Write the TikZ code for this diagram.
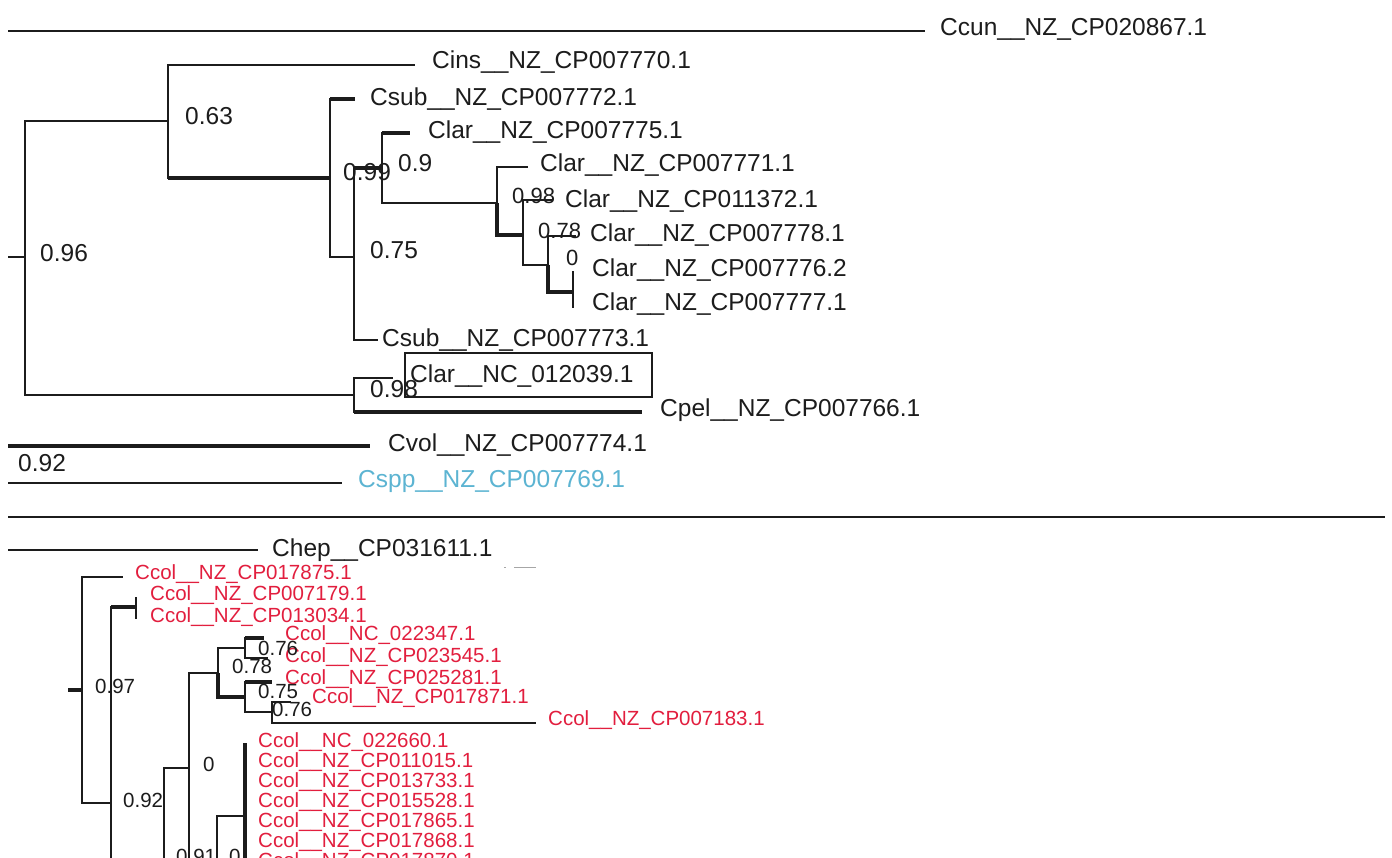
\documentclass[tikz,border=0pt]{standalone}
\usepackage{fontspec}
\setmainfont{Liberation Sans}
\usetikzlibrary{positioning}
\definecolor{TreeInk}{RGB}{28,28,28}
\definecolor{ColiRed}{RGB}{226,30,62}
\definecolor{SppBlue}{RGB}{92,180,210}
\tikzset{
  br/.style={draw=TreeInk, line width=1.5pt},
  brbold/.style={draw=TreeInk, line width=3.6pt},
  brmid/.style={draw=TreeInk, line width=2.6pt},
  taxon/.style={inner sep=0pt, anchor=base west, text=TreeInk,
    font=\fontsize{24.5}{24.5}\selectfont},
  ccol/.style={taxon, text=ColiRed, font=\fontsize{20.5}{20.5}\selectfont},
  supp/.style={taxon},
  suppsmall/.style={taxon, font=\fontsize{22}{22}\selectfont},
  suppcol/.style={taxon, font=\fontsize{20.5}{20.5}\selectfont},
}

\begin{document}
\begin{tikzpicture}[x=1pt, y=-1pt]
  \useasboundingbox (0,0) rectangle (1392,858);
  \fill[white] (0,0) rectangle (1392,858);
  \clip (0,0) rectangle (1392,858);

  % outgroup on top
  \coordinate (ccunA) at (8,31);
  \coordinate (ccunB) at (925,31);
  \draw[br, line width=2.6pt] (ccunA) -- (ccunB);
  \node[taxon] (ccun) at (940,36) {Ccun\_\_NZ\_CP020867.1};

  % upper clade
  \coordinate (rootA) at (8,257);
  \coordinate (nRoot) at (25,257);
  \coordinate (nA) at (168,121);
  \coordinate (nB) at (330,178);
  \coordinate (nC) at (354,257);
  \coordinate (nD) at (382,168);
  \coordinate (nE) at (497,203);
  \coordinate (nG) at (523,235);
  \coordinate (nH) at (548,265);
  \coordinate (nI) at (573,292);
  \coordinate (nF) at (354,395);
  \coordinate (tCins) at (415,65);
  \coordinate (tCsubA) at (355,99);
  \coordinate (tClarA) at (410,133);
  \coordinate (tClarB) at (528,167);
  \coordinate (tClarC) at (552,200);
  \coordinate (tClarD) at (576,236);
  \coordinate (tClarE) at (573,271);
  \coordinate (tClarF) at (573,308);
  \coordinate (tCsubB) at (378,340);
  \coordinate (tClarG) at (393,378);
  \coordinate (tCpel) at (642,412);

  \draw[br] (rootA) -- (nRoot);
  \draw[br] (nRoot) |- (nA);
  \draw[br] (nRoot) |- (nF);
  \draw[br] (nA) |- (tCins);
  \draw[br] (nA) |- (nB);
  \draw[brbold] (nA |- nB) -- (nB);
  \draw[br] (nB) |- (tCsubA);
  \draw[brbold] (nB |- tCsubA) -- (tCsubA);
  \draw[br] (nB) |- (nC);
  \draw[br] (nC) |- (nD);
  \draw[brbold] (nC |- nD) -- (nD);
  \draw[br] (nC) |- (tCsubB);
  \draw[br] (nD) |- (tClarA);
  \draw[brbold] (nD |- tClarA) -- (tClarA);
  \draw[br] (nD) |- (nE);
  \draw[br] (nE) |- (tClarB);
  \draw[brbold] (nE) |- (nG);
  \draw[br] (nG) |- (tClarC);
  \draw[br] (nG) |- (nH);
  \draw[br] (nH) |- (tClarD);
  \draw[brbold] (nH) |- (nI);
  \draw[br] (nI) |- (tClarE);
  \draw[br] (nI) |- (tClarF);
  \draw[br] (nF) |- (tClarG);
  \draw[br] (nF) |- (tCpel);
  \draw[brbold] (nF |- tCpel) -- (tCpel);

  \node[taxon] (cins)   at (432,69)  {Cins\_\_NZ\_CP007770.1};
  \node[taxon] (csubA)  at (370,106) {Csub\_\_NZ\_CP007772.1};
  \node[taxon] (clarA)  at (428,139) {Clar\_\_NZ\_CP007775.1};
  \node[taxon] (clarB)  at (540,172) {Clar\_\_NZ\_CP007771.1};
  \node[taxon] (clarC)  at (565,208) {Clar\_\_NZ\_CP011372.1};
  \node[taxon] (clarD)  at (590,242) {Clar\_\_NZ\_CP007778.1};
  \node[taxon] (clarE)  at (592,277) {Clar\_\_NZ\_CP007776.2};
  \node[taxon] (clarF)  at (592,311) {Clar\_\_NZ\_CP007777.1};
  \node[taxon] (csubB)  at (382,347) {Csub\_\_NZ\_CP007773.1};
  \node[taxon] (clarG)  at (410,382) {Clar\_\_NC\_012039.1};
  \draw[br] (405,353) rectangle (652,397);
  \node[taxon] (cpel)   at (660,417) {Cpel\_\_NZ\_CP007766.1};

  \node[supp] (sRoot) at (40,262)  {0.96};
  \node[supp] (sA)    at (185,125) {0.63};
  \node[supp] (sD)    at (343,181) {0.99};
  \node[supp] (sDb)   at (398,172) {0.9};
  \node[supp] (sC)    at (370,259) {0.75};
  \node[suppsmall] (sG) at (512,204) {0.98};
  \node[suppsmall] (sH) at (538,239) {0.78};
  \node[suppsmall] (sI) at (566,266) {0};
  \node[supp] (sF)    at (370,397) {0.98};

  % cvol / cspp
  \coordinate (cvolA) at (8,446);
  \coordinate (cvolB) at (370,446);
  \coordinate (csppA) at (8,483);
  \coordinate (csppB) at (342,483);
  \draw[brbold] (cvolA) -- (cvolB);
  \draw[br] (csppA) -- (csppB);
  \node[taxon] (cvol) at (388,451) {Cvol\_\_NZ\_CP007774.1};
  \node[taxon, text=SppBlue] (cspp) at (358,487) {Cspp\_\_NZ\_CP007769.1};
  \node[supp] (sVol) at (18,471) {0.92};

  \coordinate (divA) at (8,517);
  \coordinate (divB) at (1385,517);
  \draw[br, line width=2.6pt] (divA) -- (divB);

  % lower part
  \coordinate (chepA) at (8,550);
  \coordinate (chepB) at (258,550);
  \draw[br] (chepA) -- (chepB);
  \node[taxon] (chep) at (272,556) {Chep\_\_CP031611.1};
  \draw[gray!70, line width=1pt] (504,567) -- (506,567) (514,567) -- (536,567);

  \coordinate (rootB) at (68,690);
  \coordinate (nP) at (82,690);
  \coordinate (nQ) at (111,803);
  \coordinate (nR) at (136,607);
  \coordinate (nT) at (164,880);
  \coordinate (nU) at (189,768);
  \coordinate (nV) at (218,673);
  \coordinate (nBa) at (245,648);
  \coordinate (nCa) at (245,697);
  \coordinate (nDa) at (272,712);
  \coordinate (nW) at (217,870);
  \coordinate (nX) at (245,816);
  \coordinate (nXlow) at (245,880);
  \coordinate (tColA) at (123,577);
  \coordinate (tColB) at (136,597);
  \coordinate (tColC) at (136,619);
  \coordinate (tColD) at (264,638);
  \coordinate (tColE) at (268,658);
  \coordinate (tColF) at (272,682);
  \coordinate (tColG) at (291,702);
  \coordinate (tColH) at (536,723);
  \coordinate (tColI) at (245,743);

  \draw[brbold] (rootB) -- (nP);
  \draw[br] (nP) |- (tColA);
  \draw[br] (nP) |- (nQ);
  \draw[br] (nQ) |- (nR);
  \draw[brbold] (nQ |- nR) -- (nR);
  \draw[br] (nR) |- (tColB);
  \draw[br] (nR) |- (tColC);
  \draw[br] (nQ) |- (nT);
  \draw[brmid] (nT) |- (nU);
  \draw[brmid] (nU) |- (nV);
  \draw[brmid] (nU) |- (nW);
  \draw[br] (nV) |- (nBa);
  \draw[brbold] (nV) |- (nCa);
  \draw[br] (nBa) |- (tColE);
  \draw[br] (nBa) |- (tColD);
  \draw[brbold] (nBa |- tColD) -- (tColD);
  \draw[br] (nCa) |- (tColF);
  \draw[brbold] (nCa |- tColF) -- (tColF);
  \draw[br] (nCa) |- (nDa);
  \draw[br] (nDa) |- (tColG);
  \draw[br] (nDa) |- (tColH);
  \draw[brmid] (nW) |- (nX);
  \draw[brbold] (nX) |- (tColI);
  \draw[brbold] (nX) |- (nXlow);

  \node[ccol] (ccolA) at (135,579) {Ccol\_\_NZ\_CP017875.1};
  \node[ccol] (ccolB) at (150,600) {Ccol\_\_NZ\_CP007179.1};
  \node[ccol] (ccolC) at (150,622) {Ccol\_\_NZ\_CP013034.1};
  \node[ccol] (ccolD) at (285,640) {Ccol\_\_NC\_022347.1};
  \node[ccol] (ccolE) at (285,662) {Ccol\_\_NZ\_CP023545.1};
  \node[ccol] (ccolF) at (285,684) {Ccol\_\_NZ\_CP025281.1};
  \node[ccol] (ccolG) at (312,703) {Ccol\_\_NZ\_CP017871.1};
  \node[ccol] (ccolH) at (548,725) {Ccol\_\_NZ\_CP007183.1};
  \foreach \acc [count=\i] in {NC\_022660.1, NZ\_CP011015.1, NZ\_CP013733.1,
      NZ\_CP015528.1, NZ\_CP017865.1, NZ\_CP017868.1, NZ\_CP017870.1}
    \node[ccol] (ccolX\i) at (258,727+20*\i) {Ccol\_\_\acc};

  \node[suppcol] (sP)  at (95,693)  {0.97};
  \node[suppcol] (sBa) at (258,655) {0.76};
  \node[suppcol] (sV)  at (232,673) {0.78};
  \node[suppcol] (sCa) at (258,698) {0.75};
  \node[suppcol] (sDa) at (272,716) {0.76};
  \node[suppcol] (sU)  at (203,771) {0};
  \node[suppcol] (sQ)  at (123,807) {0.92};
  \node[suppcol] (sW)  at (176,863) {0.91};
  \node[suppcol] (sX)  at (229,863) {0};
\end{tikzpicture}
\end{document}
